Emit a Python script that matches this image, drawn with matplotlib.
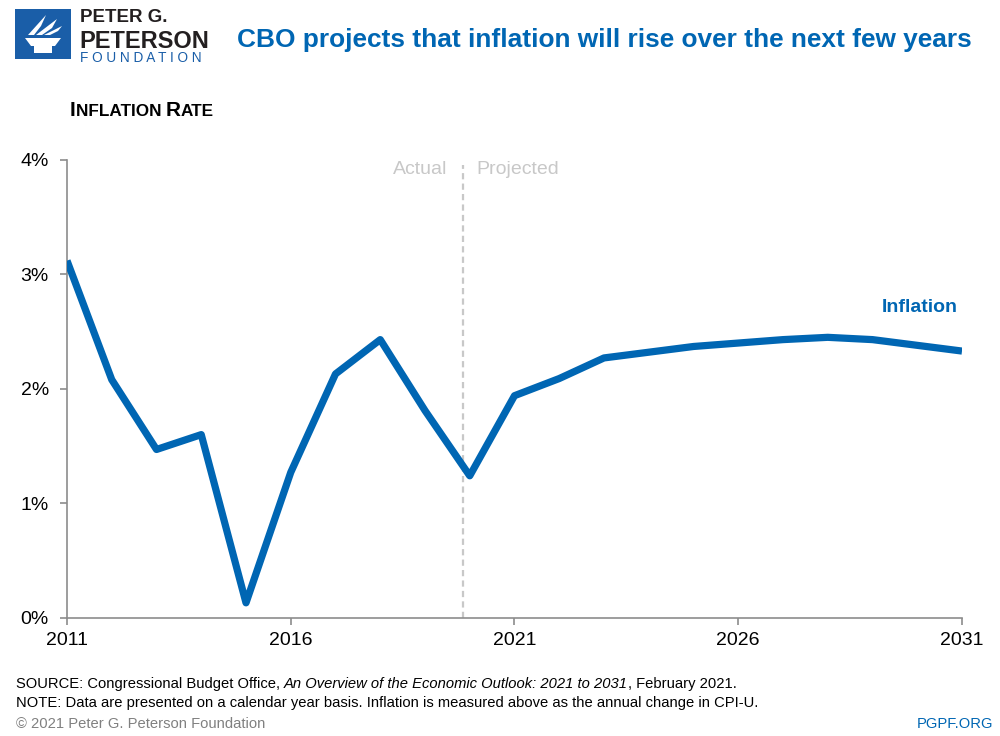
import matplotlib
matplotlib.use("Agg")
import matplotlib.pyplot as plt
from matplotlib.patches import Rectangle, Polygon

plt.rcParams['font.family'] = ['Liberation Sans', 'DejaVu Sans']

# data
years = list(range(2011, 2032))
inflation = [3.12, 2.08, 1.47, 1.60, 0.13, 1.27, 2.13, 2.43, 1.81, 1.24,
             1.94, 2.09, 2.27, 2.32, 2.37, 2.40, 2.43, 2.45, 2.43, 2.38, 2.33]
x_ticks = [2011, 2016, 2021, 2026, 2031]
y_ticks = [0, 1, 2, 3, 4]
y_labels = ['0%', '1%', '2%', '3%', '4%']
split_year = 2019.85

BLUE = '#0066b3'
LOGO_BLUE = '#1a5ea8'
GREY = '#c8c8c8'
W, H = 1000, 736


def chain(fig, x, y, pieces, **common):
    """Draw text pieces one after another on the same baseline (x, y in pixels from top-left)."""
    renderer = fig.canvas.get_renderer()
    cur = x
    for s, kw in pieces:
        opts = dict(common)
        opts.update(kw)
        t = fig.text(cur / W, 1 - y / H, s, ha='left', va='baseline', **opts)
        cur = t.get_window_extent(renderer).x1


fig = plt.figure(figsize=(10, 7.36), dpi=100)
ax = fig.add_axes([0.067, 0.1607, 0.895, 0.622])

ax.plot(years, inflation, color=BLUE, lw=5.2, solid_joinstyle='round', solid_capstyle='butt', zorder=3)
ax.axvline(split_year, ymin=0, ymax=0.99, color=GREY, lw=1.6, ls=(0, (2.8, 1.9)), zorder=2)

ax.set_xlim(2011, 2031)
ax.set_ylim(0, 4)
ax.set_xticks(x_ticks)
ax.set_yticks(y_ticks)
ax.set_yticklabels(y_labels)
for s in ['top', 'right']:
    ax.spines[s].set_visible(False)
for s in ['left', 'bottom']:
    ax.spines[s].set_color('#8c8c8c')
    ax.spines[s].set_linewidth(1.2)
ax.tick_params(axis='both', colors='#8c8c8c', length=5, width=1.2, labelcolor='black',
               labelsize=14)
ax.tick_params(axis='y', pad=8)
ax.tick_params(axis='x', pad=5)

ax.text(split_year - 0.35, 3.92, 'Actual', color=GREY, fontsize=14, ha='right', va='center')
ax.text(split_year + 0.3, 3.92, 'Projected', color=GREY, fontsize=14, ha='left', va='center')
ax.text(2030.9, 2.71, 'Inflation', color=BLUE, fontsize=14, fontweight='bold', ha='right',
        va='center')

# title
fig.text(0.972, 0.946, 'CBO projects that inflation will rise over the next few years', color=BLUE,
         fontsize=18.9, fontweight='bold', ha='right', va='center')

# small caps "INFLATION RATE"
chain(fig, 70, 116, [('I', dict(fontsize=15)), ('NFLATION ', dict(fontsize=12.3)),
                     ('R', dict(fontsize=15)), ('ATE', dict(fontsize=12.3))],
      fontweight='bold', color='black')

# logo box
fig.add_artist(Rectangle((15 / W, 1 - 59 / H), 56 / W, 50 / H, transform=fig.transFigure,
                         facecolor=LOGO_BLUE, edgecolor='none'))


def px(pts):
    return [(a / W, 1 - b / H) for a, b in pts]


shapes = [
    px([(25, 38), (61, 38), (55, 46), (31, 46)]),           # bowl
    px([(34, 46), (52, 46), (52, 53), (34, 53)]),           # base
    px([(28, 35), (46, 15), (41, 26), (34, 35)]),           # flame left
    px([(36, 35), (57, 19), (52, 28), (42, 35)]),           # flame middle
    px([(44, 35), (62, 26), (58, 31), (50, 35)]),           # flame right
]
for pts in shapes:
    fig.add_artist(Polygon(pts, closed=True, transform=fig.transFigure, facecolor='white',
                           edgecolor='none'))

fig.text(80 / W, 1 - 22 / H, 'PETER G.', fontsize=13.5, fontweight='bold', color='#231f20',
         ha='left', va='baseline')
fig.text(79 / W, 1 - 47.5 / H, 'PETERSON', fontsize=17, fontweight='bold', color='#231f20',
         ha='left', va='baseline')
fig.text(80 / W, 1 - 62 / H, 'F O U N D A T I O N', fontsize=9.8, color=LOGO_BLUE,
         ha='left', va='baseline')

# footer
chain(fig, 16, 688, [('SOURCE: Congressional Budget Office, ', {}),
                     ('An Overview of the Economic Outlook: 2021 to 2031', dict(style='italic')),
                     (', February 2021.', {})],
      fontsize=10.6, color='black')
fig.text(16 / W, 1 - 707 / H, 'NOTE: Data are presented on a calendar year basis. Inflation is measured '
         'above as the annual change in CPI-U.', fontsize=10.6, ha='left', va='baseline')
fig.text(16 / W, 1 - 728 / H, '\u00a9 2021 Peter G. Peterson Foundation', fontsize=10.6,
         color='#808080', ha='left', va='baseline')
fig.text(993 / W, 1 - 728 / H, 'PGPF.ORG', fontsize=10.6, color=BLUE, ha='right', va='baseline')

fig.savefig('out.png', dpi=100)
